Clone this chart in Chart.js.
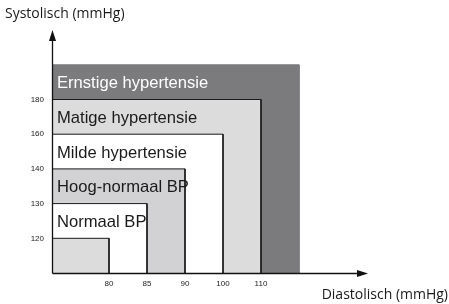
<!DOCTYPE html>
<html>
<head>
<meta charset="utf-8">
<script src="https://cdn.jsdelivr.net/npm/chart.js@4/dist/chart.umd.min.js"></script>
<style>
  html, body { margin: 0; padding: 0; background: #fff; }
  #wrap { width: 449px; height: 304px; }
</style>
</head>
<body>
<div id="wrap"><canvas id="bp"></canvas></div>
<script>
// diastolic / systolic limits, one per category box (innermost first)
const diastolic = [80, 85, 90, 100, 110];
const systolic = [120, 130, 140, 160, 180];
const bands = ["Normaal BP", "Hoog-normaal BP", "Milde hypertensie", "Matige hypertensie", "Ernstige hypertensie"];
const boxFills = ["#dcdcdd", "#ffffff", "#d2d2d4", "#ffffff", "#dcdcdd", "#7b7b7e"];
const bandText = ["#1a1a1a", "#1a1a1a", "#1a1a1a", "#1a1a1a", "#ffffff"];

// ordinal slots: the axes are not to scale, each limit is one step
const xSlot = (i) => i + 1.5;
const ySlot = (i) => i + 1;

const datasets = boxFills.map((fill, i) => {
  const x = xSlot(i);
  const y = ySlot(i);
  const outer = i === boxFills.length - 1;
  return {
    data: [{ x: 0, y: y }, { x: x, y: y }, { x: x, y: 0 }],
    fill: "origin",
    backgroundColor: fill,
    borderColor: outer ? fill : "#1a1a1a",
    borderWidth: 1,
    pointRadius: 0,
    tension: 0,
  };
});

const decor = {
  id: "decor",
  afterDatasetsDraw(c) {
    const ctx = c.ctx;
    const a = c.chartArea;
    const xs = c.scales.x;
    const ys = c.scales.y;
    ctx.save();

    // category names, in the band above each box
    ctx.font = '16.6px "Liberation Sans", Arial, sans-serif';
    ctx.textAlign = "left";
    ctx.textBaseline = "alphabetic";
    bands.forEach((name, i) => {
      const mid = ys.getPixelForValue(ySlot(i) + 0.5);
      ctx.fillStyle = bandText[i];
      ctx.fillText(name, xs.getPixelForValue(0) + 5, mid + 6);
    });

    // axes with arrow heads
    const x0 = Math.round(xs.getPixelForValue(0)) + 0.5;
    const y0 = Math.round(ys.getPixelForValue(0)) + 0.5;
    ctx.strokeStyle = "#111";
    ctx.fillStyle = "#111";
    ctx.lineWidth = 1.3;
    ctx.beginPath();
    ctx.moveTo(x0, y0);
    ctx.lineTo(x0, a.top + 8);
    ctx.moveTo(x0, y0);
    ctx.lineTo(a.right - 8, y0);
    ctx.stroke();
    ctx.beginPath();
    ctx.moveTo(x0, a.top);
    ctx.lineTo(x0 - 3.5, a.top + 11);
    ctx.lineTo(x0 + 3.5, a.top + 11);
    ctx.closePath();
    ctx.fill();
    ctx.beginPath();
    ctx.moveTo(a.right, y0);
    ctx.lineTo(a.right - 11, y0 - 3.5);
    ctx.lineTo(a.right - 11, y0 + 3.5);
    ctx.closePath();
    ctx.fill();

    // axis titles
    ctx.font = '14px "Open Sans", sans-serif';
    ctx.fillStyle = "#1a1a1a";
    ctx.textBaseline = "middle";
    ctx.textAlign = "left";
    ctx.fillText("Systolisch (mmHg)", 5, 14);
    ctx.textAlign = "right";
    ctx.fillText("Diastolisch (mmHg)", 448, 295);
    ctx.restore();
  },
};

new Chart(document.getElementById("bp"), {
  type: "line",
  data: { datasets: datasets },
  options: {
    responsive: true,
    maintainAspectRatio: false,
    animation: false,
    events: [],
    layout: { padding: { top: 30, right: 81, left: 0, bottom: 0 } },
    plugins: { legend: { display: false }, tooltip: { enabled: false } },
    scales: {
      x: {
        type: "linear",
        min: 0,
        max: 316 / 38,
        grid: { display: false, drawTicks: false },
        border: { display: false },
        afterBuildTicks: (s) => { s.ticks = diastolic.map((_, i) => ({ value: xSlot(i) })); },
        afterFit: (s) => { s.height = 31; },
        ticks: {
          autoSkip: false,
          maxRotation: 0,
          padding: 6,
          color: "#222",
          font: { size: 8, family: '"Liberation Sans", Arial, sans-serif' },
          callback: (v, i) => diastolic[i],
        },
      },
      y: {
        type: "linear",
        min: 0,
        max: 243 / 34.7,
        grid: { display: false, drawTicks: false },
        border: { display: false },
        afterBuildTicks: (s) => { s.ticks = systolic.map((_, i) => ({ value: ySlot(i) })); },
        afterFit: (s) => { s.width = 52; },
        ticks: {
          autoSkip: false,
          padding: 8,
          color: "#222",
          font: { size: 8, family: '"Liberation Sans", Arial, sans-serif' },
          callback: (v, i) => systolic[i],
        },
      },
    },
  },
  plugins: [decor],
});
</script>
</body>
</html>
